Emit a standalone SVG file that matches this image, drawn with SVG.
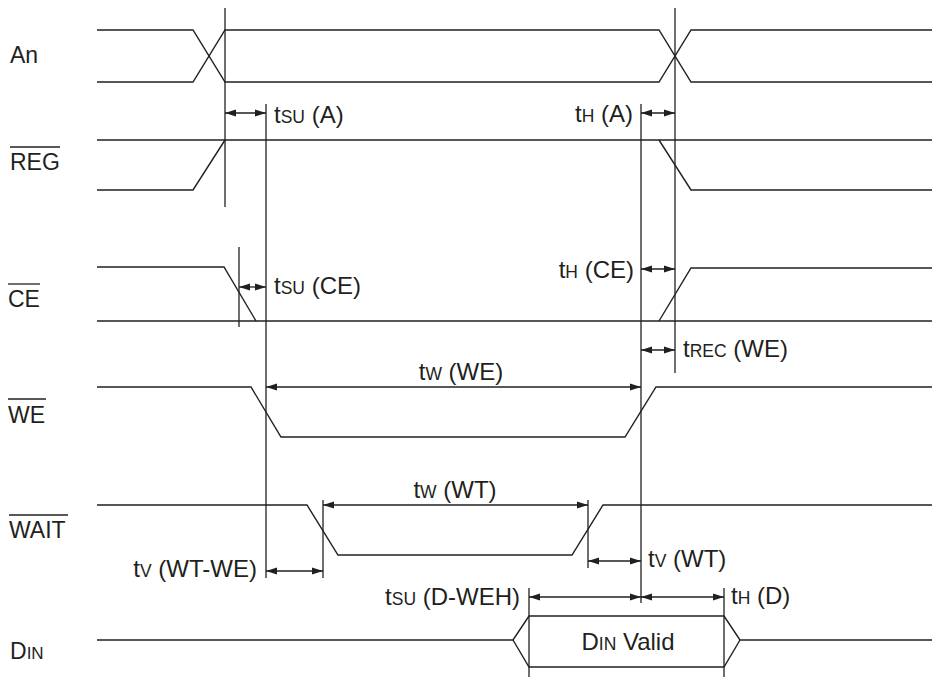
<svg xmlns="http://www.w3.org/2000/svg" width="934" height="677" viewBox="0 0 934 677">
<style>
.s{fill:none;stroke:#231f20;stroke-width:1.4;stroke-linejoin:miter}
.v{fill:none;stroke:#231f20;stroke-width:1.3}
.a{fill:none;stroke:#231f20;stroke-width:1.3;marker-start:url(#ah);marker-end:url(#ah)}
text{font-family:"Liberation Sans",Arial,sans-serif;font-size:23px;fill:#231f20}
.t{font-size:24px}
.sm{font-size:17px}
.t .sm{font-size:17.5px}
.e{text-anchor:end}
.m{text-anchor:middle}
</style>
<defs>
<marker id="ah" markerUnits="userSpaceOnUse" markerWidth="11" markerHeight="8" refX="11" refY="4" orient="auto-start-reverse">
<path d="M0,0.5 L11,4 L0,7.5 z" fill="#231f20"/>
</marker>
</defs>
<rect width="934" height="677" fill="#fff"/>

<g id="An">
<text x="10" y="63">An</text>
<path class="s" d="M97,30 H193 L225,82 H659 L691,30 H932"/>
<path class="s" d="M97,82 H193 L225,30 H659 L691,82 H932"/>
</g>

<g id="REG">
<text x="10" y="170">REG</text>
<line class="v" x1="10" y1="147" x2="60" y2="147"/>
<path class="s" d="M97,140 H932"/>
<path class="s" d="M97,190 H193 L225,140"/>
<path class="s" d="M659,140 L691,190 H932"/>
</g>

<g id="CE">
<text x="8" y="307">CE</text>
<line class="v" x1="8" y1="284" x2="40" y2="284"/>
<path class="s" d="M97,267 H224 L256,321"/>
<path class="s" d="M97,321 H932"/>
<path class="s" d="M659,321 L691,268 H932"/>
</g>

<g id="WE">
<text x="8" y="423">WE</text>
<line class="v" x1="8" y1="399" x2="46" y2="399"/>
<path class="s" d="M97,387 H251 L281,437 H625 L656,387 H932"/>
</g>

<g id="WAIT">
<text x="9" y="538">WAIT</text>
<line class="v" x1="9" y1="515" x2="68" y2="515"/>
<path class="s" d="M97,505 H307 L338,555 H572 L603,505 H932"/>
</g>

<g id="DIN">
<text x="10" y="659">D<tspan class="sm">IN</tspan></text>
<path class="s" d="M97,640 H513 L529,616 H724 L740,640 H932"/>
<path class="s" d="M513,640 L529,667 H724 L740,640"/>
<text class="t m" x="628" y="650">D<tspan class="sm">IN</tspan> Valid</text>
</g>

<g id="connectors">
<line class="v" x1="225" y1="8" x2="225" y2="207"/>
<line class="v" x1="675" y1="8" x2="675" y2="373"/>
<line class="v" x1="266" y1="104" x2="266" y2="578"/>
<line class="v" x1="641" y1="104" x2="641" y2="603"/>
<line class="v" x1="239" y1="247" x2="239" y2="327"/>
<line class="v" x1="323" y1="500" x2="323" y2="578"/>
<line class="v" x1="588" y1="500" x2="588" y2="568"/>
<line class="v" x1="529" y1="588" x2="529" y2="677"/>
<line class="v" x1="724" y1="588" x2="724" y2="677"/>

<line class="a" x1="225" y1="113" x2="266" y2="113"/>
<line class="a" x1="641" y1="113" x2="675" y2="113"/>
<line class="a" x1="239" y1="287" x2="266" y2="287"/>
<line class="a" x1="641" y1="269" x2="675" y2="269"/>
<line class="a" x1="641" y1="350" x2="675" y2="350"/>
<line class="a" x1="266" y1="387" x2="641" y2="387"/>
<line class="a" x1="323" y1="505" x2="588" y2="505"/>
<line class="a" x1="266" y1="571" x2="323" y2="571"/>
<line class="a" x1="588" y1="561" x2="641" y2="561"/>
<line class="a" x1="529" y1="597" x2="641" y2="597"/>
<line class="a" x1="641" y1="597" x2="724" y2="597"/>
</g>

<g id="labels">
<text class="t" x="274" y="123">t<tspan class="sm">SU</tspan> (A)</text>
<text class="t e" x="633" y="122">t<tspan class="sm">H</tspan> (A)</text>
<text class="t" x="274" y="294">t<tspan class="sm">SU</tspan> (CE)</text>
<text class="t e" x="634" y="278">t<tspan class="sm">H</tspan> (CE)</text>
<text class="t" x="683" y="357">t<tspan class="sm">REC</tspan> (WE)</text>
<text class="t m" x="461" y="380">t<tspan class="sm">W</tspan> (WE)</text>
<text class="t m" x="455" y="498">t<tspan class="sm">W</tspan> (WT)</text>
<text class="t e" x="257" y="577">t<tspan class="sm">V</tspan> (WT-WE)</text>
<text class="t" x="648" y="567">t<tspan class="sm">V</tspan> (WT)</text>
<text class="t e" x="520" y="605">t<tspan class="sm">SU</tspan> (D-WEH)</text>
<text class="t" x="731" y="604">t<tspan class="sm">H</tspan> (D)</text>
</g>
</svg>
